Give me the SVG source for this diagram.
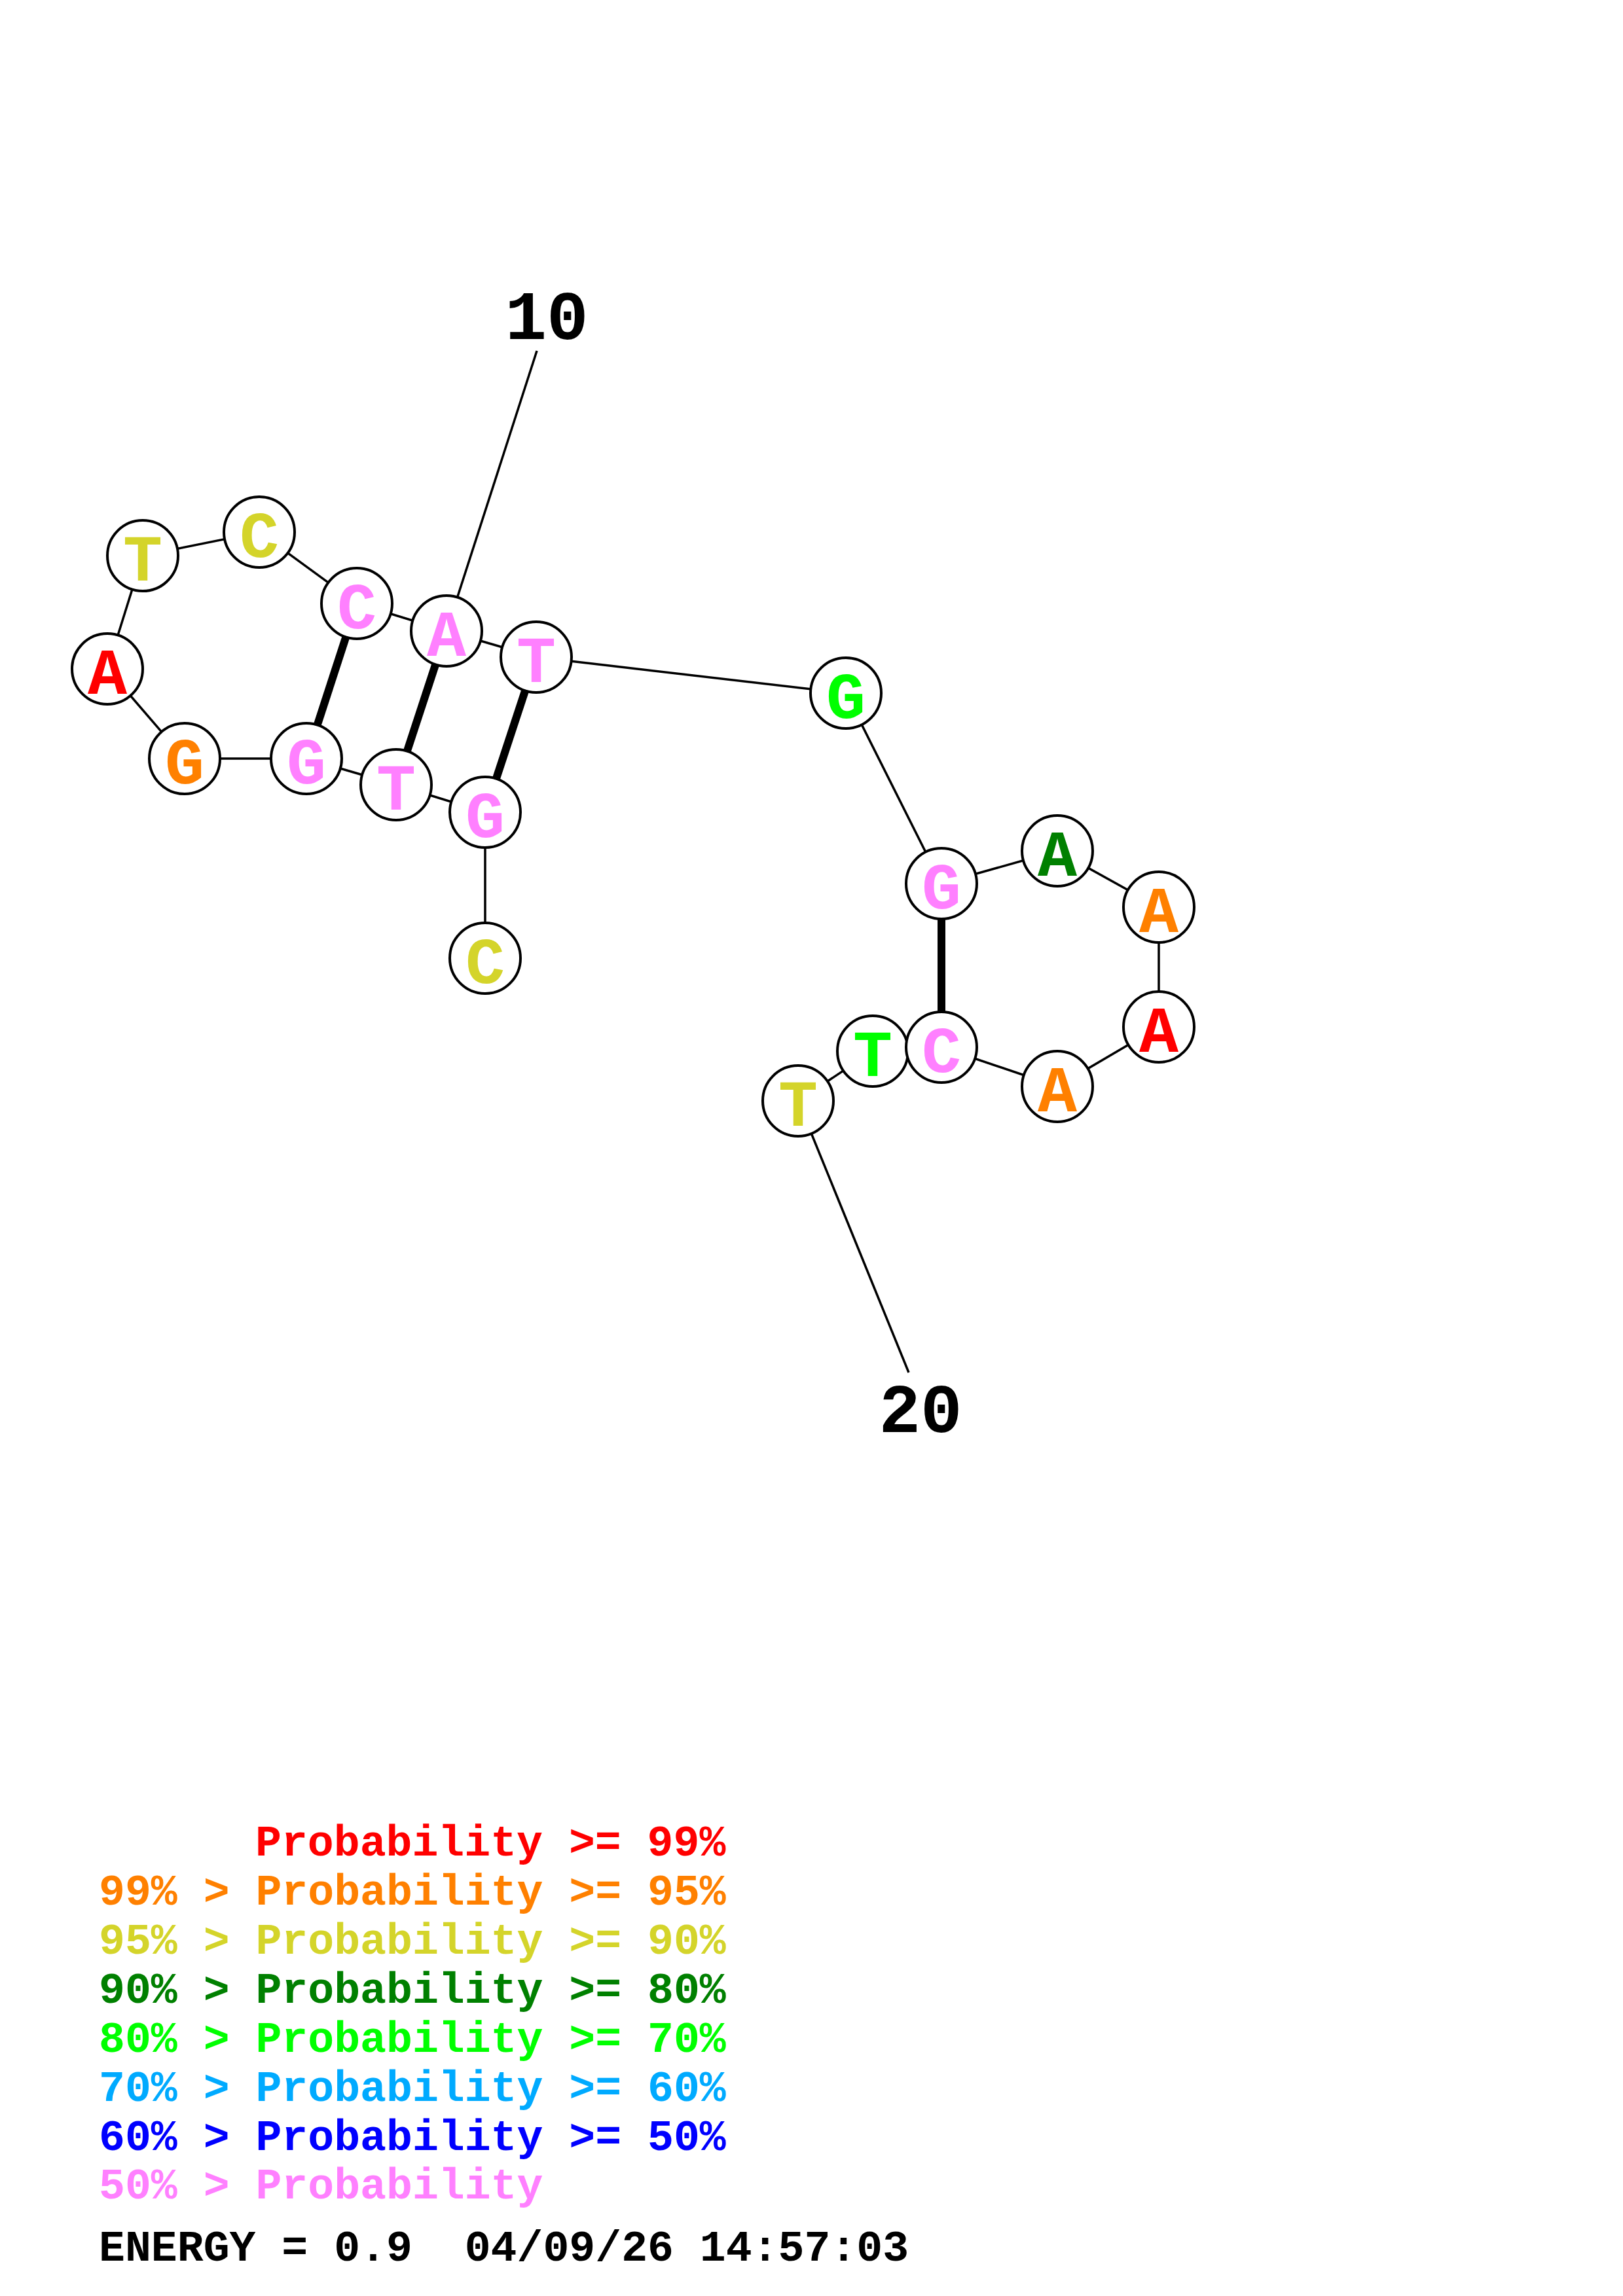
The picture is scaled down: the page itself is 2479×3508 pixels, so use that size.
<svg xmlns="http://www.w3.org/2000/svg" width="2479" height="3508" viewBox="0 0 2479 3508">
<style>
.bb{stroke:#000;stroke-width:3.5;fill:none}
.pr{stroke:#000;stroke-width:12;fill:none}
.nd circle{fill:#fff;stroke:#000;stroke-width:4}
.nd text{font-family:"Liberation Mono","DejaVu Sans Mono",monospace;font-weight:bold;font-size:100px;text-anchor:middle}
.num{font-family:"Liberation Mono","DejaVu Sans Mono",monospace;font-weight:bold;font-size:106px;text-anchor:middle;fill:#000}
.lg{font-family:"Liberation Mono","DejaVu Sans Mono",monospace;font-weight:bold;font-size:66.5px}
.r{fill:#FF0000}.o{fill:#FF8000}.y{fill:#D4D42A}.dg{fill:#008000}.g{fill:#00FF00}.lb{fill:#00AAFF}.b{fill:#0000FF}.p{fill:#FF80FF}.k{fill:#000}
</style>
<rect width="2479" height="3508" fill="#fff"/>
<g id="connectors">
<line class="bb" x1="820" y1="536" x2="682" y2="964"/>
<line class="bb" x1="1219" y1="1682" x2="1388" y2="2097"/>
<polyline class="bb" points="741,1464 741,1241 605,1199 468,1159 282,1159 164,1022 218,849 396,813 545,922 682,964 819,1004 1292,1059 1438,1350 1615,1300 1770,1386 1770,1569 1615,1660 1438,1600 1333,1606 1219,1682"/>
<line class="pr" x1="545" y1="922" x2="468" y2="1159"/>
<line class="pr" x1="682" y1="964" x2="605" y2="1199"/>
<line class="pr" x1="819" y1="1004" x2="741" y2="1241"/>
<line class="pr" x1="1438" y1="1350" x2="1438" y2="1600"/>
</g>
<g id="n1" class="nd"><circle cx="741" cy="1464" r="54"/><text x="741" y="1502" class="y">C</text></g>
<g id="n2" class="nd"><circle cx="741" cy="1241" r="54"/><text x="741" y="1279" class="p">G</text></g>
<g id="n3" class="nd"><circle cx="605" cy="1199" r="54"/><text x="605" y="1237" class="p">T</text></g>
<g id="n4" class="nd"><circle cx="468" cy="1159" r="54"/><text x="468" y="1197" class="p">G</text></g>
<g id="n5" class="nd"><circle cx="282" cy="1159" r="54"/><text x="282" y="1197" class="o">G</text></g>
<g id="n6" class="nd"><circle cx="164" cy="1022" r="54"/><text x="164" y="1060" class="r">A</text></g>
<g id="n7" class="nd"><circle cx="218" cy="849" r="54"/><text x="218" y="887" class="y">T</text></g>
<g id="n8" class="nd"><circle cx="396" cy="813" r="54"/><text x="396" y="851" class="y">C</text></g>
<g id="n9" class="nd"><circle cx="545" cy="922" r="54"/><text x="545" y="960" class="p">C</text></g>
<g id="n10" class="nd"><circle cx="682" cy="964" r="54"/><text x="682" y="1002" class="p">A</text></g>
<g id="n11" class="nd"><circle cx="819" cy="1004" r="54"/><text x="819" y="1042" class="p">T</text></g>
<g id="n12" class="nd"><circle cx="1292" cy="1059" r="54"/><text x="1292" y="1097" class="g">G</text></g>
<g id="n13" class="nd"><circle cx="1438" cy="1350" r="54"/><text x="1438" y="1388" class="p">G</text></g>
<g id="n14" class="nd"><circle cx="1615" cy="1300" r="54"/><text x="1615" y="1338" class="dg">A</text></g>
<g id="n15" class="nd"><circle cx="1770" cy="1386" r="54"/><text x="1770" y="1424" class="o">A</text></g>
<g id="n16" class="nd"><circle cx="1770" cy="1569" r="54"/><text x="1770" y="1607" class="r">A</text></g>
<g id="n17" class="nd"><circle cx="1615" cy="1660" r="54"/><text x="1615" y="1698" class="o">A</text></g>
<g id="n19" class="nd"><circle cx="1333" cy="1606" r="54"/><text x="1333" y="1644" class="g">T</text></g>
<g id="n18" class="nd"><circle cx="1438" cy="1600" r="54"/><text x="1438" y="1638" class="p">C</text></g>
<g id="n20" class="nd"><circle cx="1219" cy="1682" r="54"/><text x="1219" y="1720" class="y">T</text></g>
<g id="labels">
<text class="num" x="835" y="518">10</text>
<text class="num" x="1406" y="2188">20</text>
</g>
<g id="legend" class="lg">
<text x="390" y="2835" class="r">Probability &gt;= 99%</text>
<text x="151" y="2910" class="o">99% &gt; Probability &gt;= 95%</text>
<text x="151" y="2985" class="y">95% &gt; Probability &gt;= 90%</text>
<text x="151" y="3060" class="dg">90% &gt; Probability &gt;= 80%</text>
<text x="151" y="3135" class="g">80% &gt; Probability &gt;= 70%</text>
<text x="151" y="3210" class="lb">70% &gt; Probability &gt;= 60%</text>
<text x="151" y="3285" class="b">60% &gt; Probability &gt;= 50%</text>
<text x="151" y="3359" class="p">50% &gt; Probability</text>
<text x="151" y="3454" class="k" xml:space="preserve">ENERGY = 0.9  04/09/26 14:57:03</text>
</g>
</svg>
